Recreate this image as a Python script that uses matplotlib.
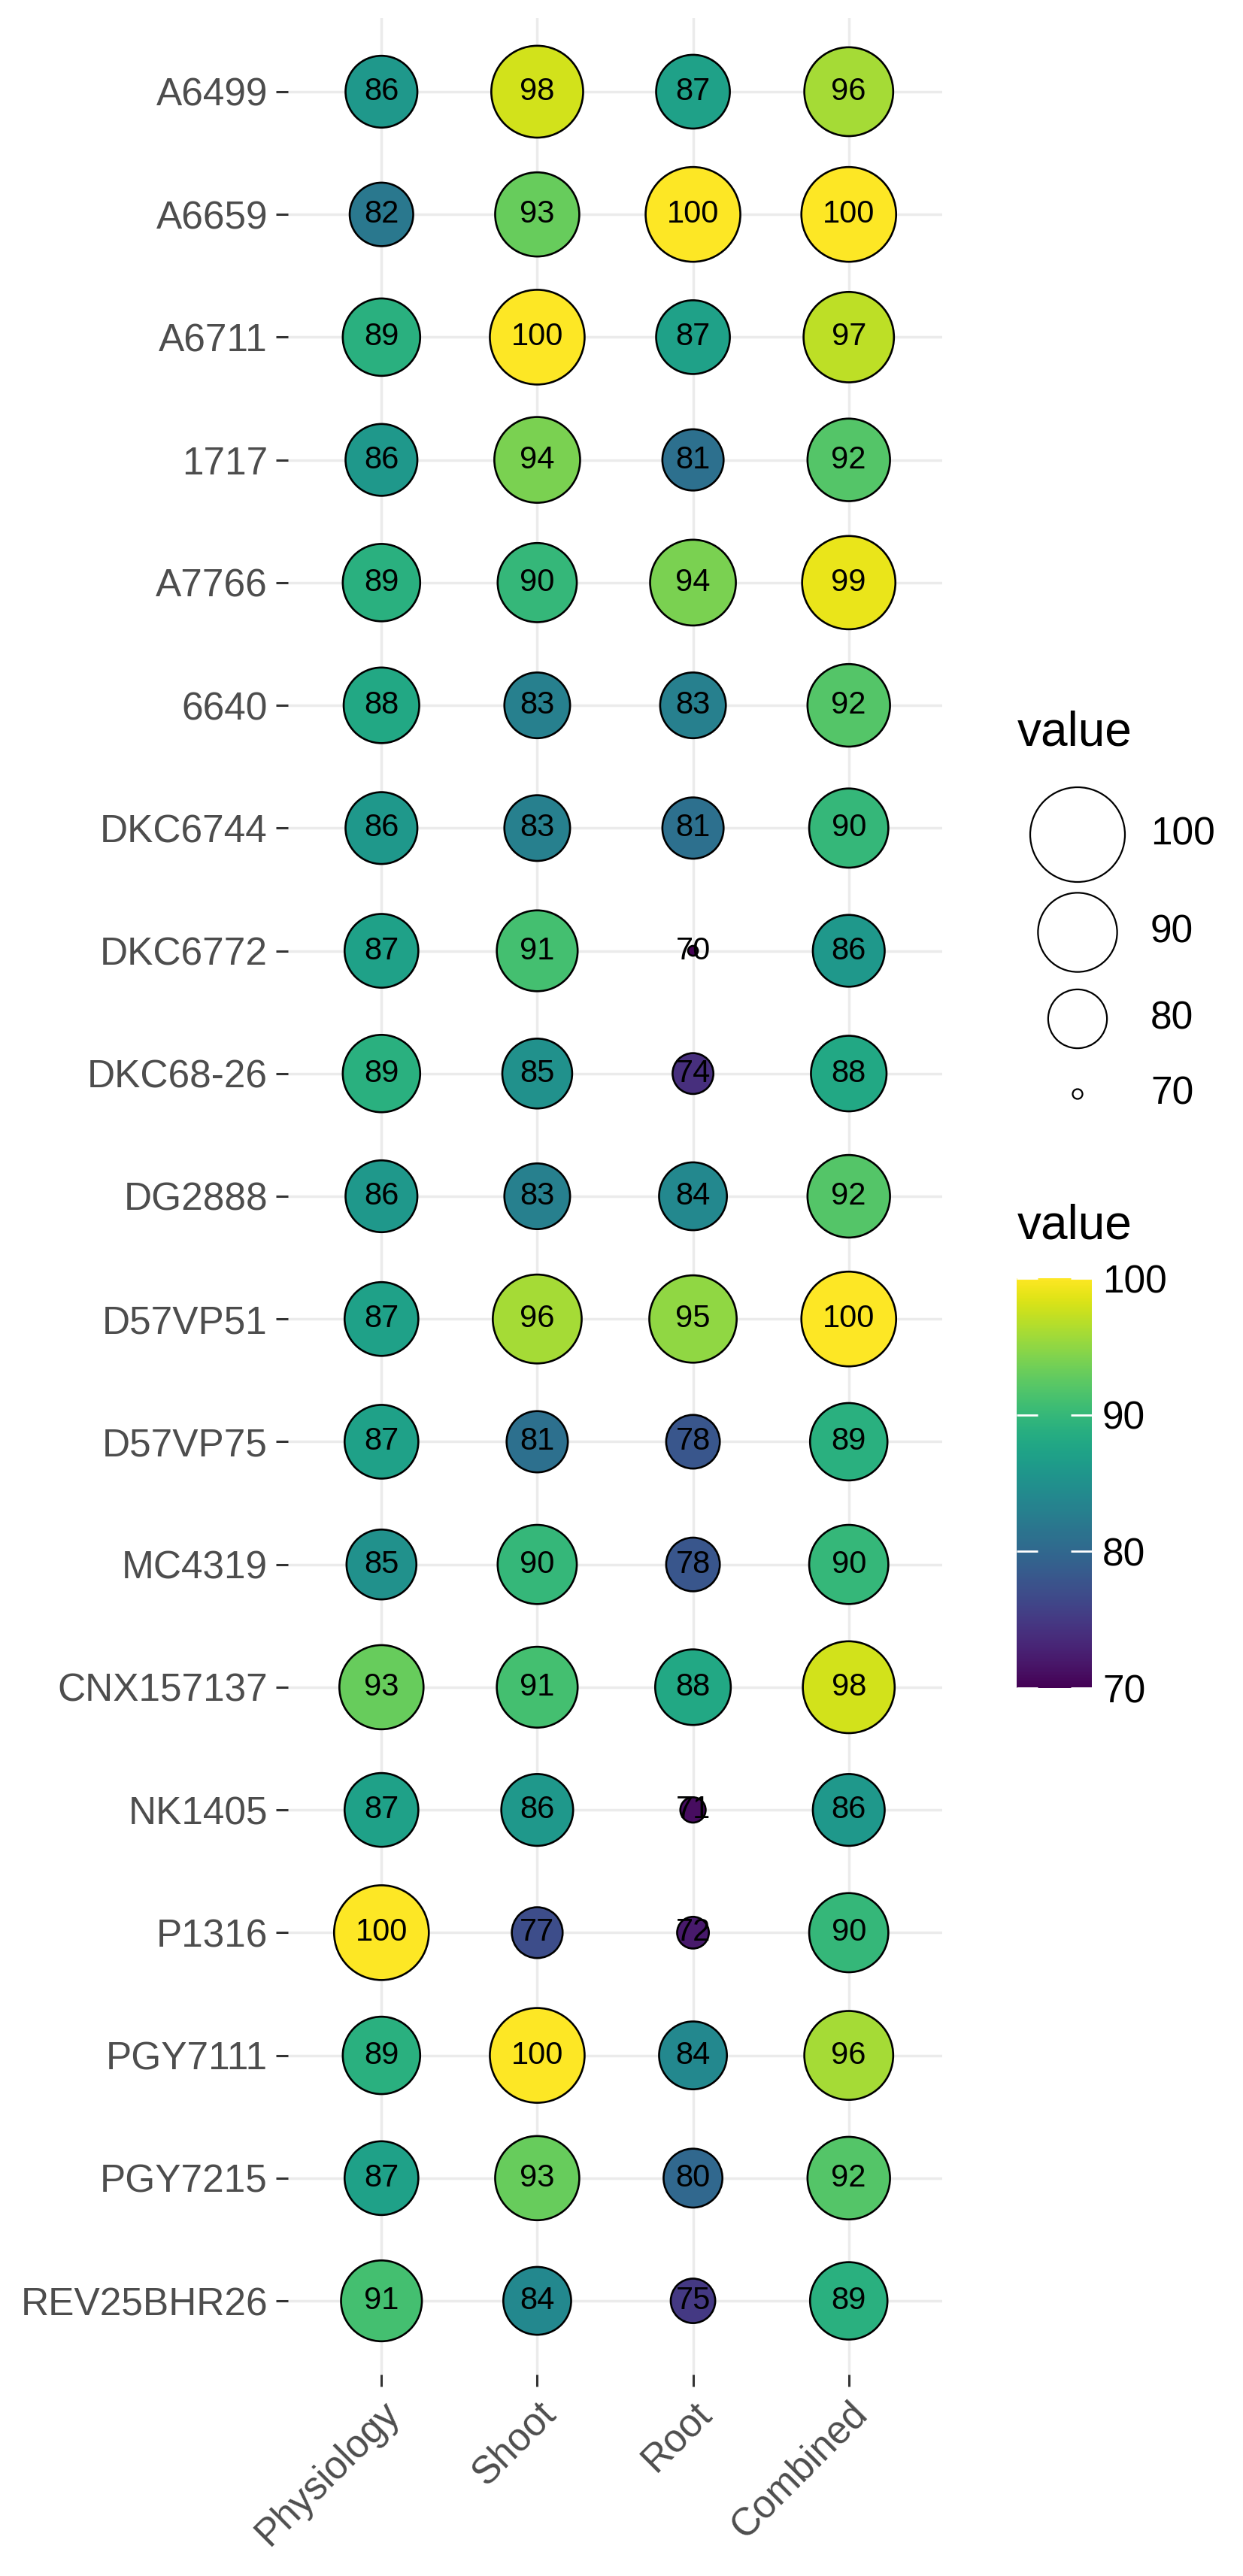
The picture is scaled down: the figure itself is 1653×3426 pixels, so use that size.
import numpy as np
import matplotlib.pyplot as plt
from matplotlib import colors

plt.rcParams['font.family'] = ['Liberation Sans', 'DejaVu Sans']

# hybrids, top to bottom
hybrids = ['A6499', 'A6659', 'A6711', '1717', 'A7766', '6640', 'DKC6744',
           'DKC6772', 'DKC68-26', 'DG2888', 'D57VP51', 'D57VP75', 'MC4319',
           'CNX157137', 'NK1405', 'P1316', 'PGY7111', 'PGY7215', 'REV25BHR26']
traits = ['Physiology', 'Shoot', 'Root', 'Combined']

physiology = [86, 82, 89, 86, 89, 88, 86, 87, 89, 86, 87, 87, 85, 93, 87, 100, 89, 87, 91]
shoot = [98, 93, 100, 94, 90, 83, 83, 91, 85, 83, 96, 81, 90, 91, 86, 77, 100, 93, 84]
root = [87, 100, 87, 81, 94, 83, 81, 70, 74, 84, 95, 78, 78, 88, 71, 72, 84, 80, 75]
combined = [96, 100, 97, 92, 99, 92, 90, 86, 88, 92, 100, 89, 90, 98, 86, 90, 96, 92, 89]

legend_values = [100, 90, 80, 70]

scores = np.array([physiology, shoot, root, combined]).T  # rows = hybrids

vmin, vmax = 70, 100


def bubble_size(v):
    # ggplot-like area scale: diameter grows with sqrt of rescaled value
    v = np.asarray(v, dtype=float)
    d = 9.4 + 81.3 * np.sqrt((v - vmin) / (vmax - vmin))
    return d ** 2


W, H = 1653, 3426
fig = plt.figure(figsize=(W / 100, H / 100), dpi=100)

# --- main bubble panel ---
ax = fig.add_axes([383 / W, 1 - 3158 / H, (1253 - 383) / W, (3158 - 24) / H])
norm = colors.Normalize(vmin, vmax)
xx, yy = np.meshgrid(np.arange(len(traits)), np.arange(len(hybrids)))
sc = ax.scatter(xx.ravel(), yy.ravel(), s=bubble_size(scores.ravel()),
                c=scores.ravel(), cmap='viridis', norm=norm,
                edgecolors='black', linewidths=1.9, zorder=3)
for (i, j), v in np.ndenumerate(scores):
    ax.text(j, i, f'{v:.0f}', ha='center', va='center', fontsize=30,
            color='black', zorder=4)

ax.set_xlim(-0.6, len(traits) - 0.4)
ax.set_ylim(len(hybrids) - 0.4, -0.6)
ax.set_xticks(range(len(traits)))
ax.set_xticklabels(traits, rotation=45, ha='right', va='top',
                   rotation_mode='anchor')
ax.set_yticks(range(len(hybrids)))
ax.set_yticklabels(hybrids)
ax.grid(color='#EBEBEB', linewidth=2.5)
ax.set_axisbelow(True)
for sp in ax.spines.values():
    sp.set_visible(False)
ax.tick_params(length=11.5, width=2.2, color='#333333', pad=8,
               labelsize=37, labelcolor='#4D4D4D')

# --- size legend ---
lax = fig.add_axes([0, 0, 1, 1], zorder=-1)
lax.set_xlim(0, W)
lax.set_ylim(H, 0)
lax.axis('off')
fig.text(1353 / W, 1 - 975 / H, 'value', fontsize=46, ha='left', va='center')
key_y = [1110, 1240, 1355, 1455]
lax.scatter([1433] * len(legend_values), key_y, s=bubble_size(legend_values),
            facecolors='white', edgecolors='black', linewidths=1.6)
for v, y in zip(legend_values, key_y):
    lax.text(1530, y, str(v), fontsize=37, ha='left', va='center')

# --- colour bar ---
fig.text(1353 / W, 1 - 1630 / H, 'value', fontsize=46, ha='left', va='center')
cax = fig.add_axes([1352 / W, 1 - 2245 / H, 100 / W, (2245 - 1700) / H])
cb = fig.colorbar(sc, cax=cax, ticks=[70, 80, 90, 100])
cb.outline.set_visible(False)
cax.tick_params(left=True, right=True, direction='in', color='white',
                length=20, width=2, labelleft=False, labelright=True,
                labelsize=37, pad=10)

fig.savefig('out.png', dpi=100)
